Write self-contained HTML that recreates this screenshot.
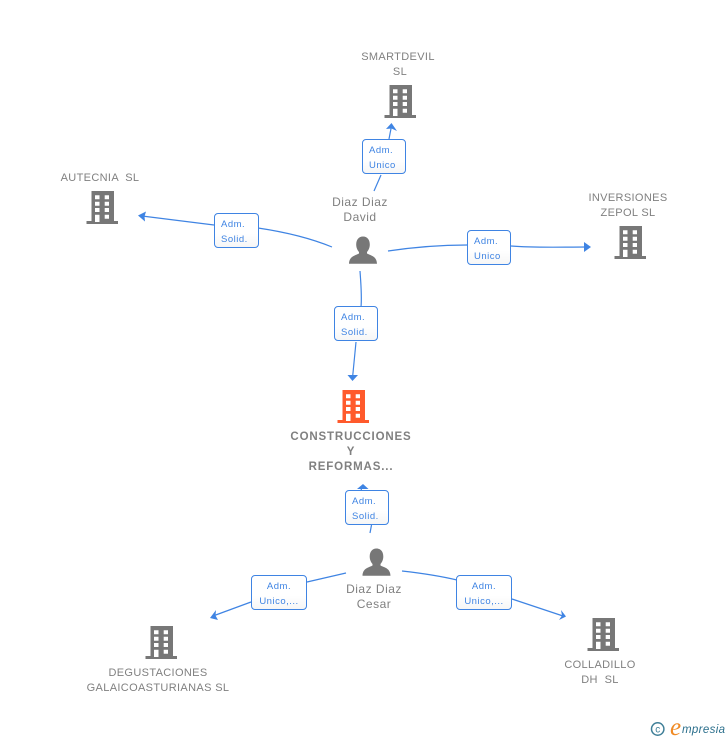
<!DOCTYPE html>
<html><head><meta charset="utf-8">
<style>
html,body{margin:0;padding:0;background:#fff;}
#c{position:relative;width:728px;height:740px;overflow:hidden;background:#fff;font-family:"Liberation Sans",sans-serif;}
svg{position:absolute;left:0;top:0;}
.t{position:absolute;text-align:center;color:#808080;font-size:11px;line-height:15px;letter-spacing:.35px;white-space:pre;transform:translateX(-50%);}
.p{font-size:12px;letter-spacing:.5px;}
.b{font-weight:bold;letter-spacing:.85px;font-size:11.5px;}
.l{position:absolute;box-sizing:border-box;height:35px;border:1px solid #3f84e3;border-radius:4px;background:linear-gradient(#fff 60%,#f6f6f6);color:#3f84e3;font-size:9.5px;line-height:15px;letter-spacing:.5px;padding:2.5px 0 0 6px;white-space:pre;}
.ctr{text-align:center;padding-left:0;}
</style></head><body>
<div id="c">
<svg width="728" height="740" viewBox="0 0 728 740">
<defs>
<g id="bd">
<path fill-rule="evenodd" d="M5.5 1H28V31H32V34H.5V31H5.5ZM9 5.300V9.300H13.500V5.300ZM18.700 5.300V9.300H23V5.300ZM9 11.700V15.700H13.500V11.700ZM18.700 11.700V15.700H23V11.700ZM9 18V22H13.500V18ZM18.700 18V22H23V18ZM9 24.700V32H13.500V24.700ZM18.700 24.700V28.700H23V24.700Z"/>
</g>
<g id="pr">
<path d="M14 .5C18.500 .5 20.800 4 20.800 8.500C20.800 12 19.300 14.500 18 16V17.500C21.500 19.500 27.800 20 28 27.800H0C.2 20 6.500 19.500 10 17.500V16C8.700 14.500 7.200 12 7.200 8.500C7.200 4 9.500 .5 14 .5Z"/>
</g>
</defs>
<g fill="#777">
<use href="#bd" x="384" y="84"/>
<use href="#bd" x="86" y="190"/>
<use href="#bd" x="614" y="225"/>
<use href="#bd" x="145" y="625"/>
<use href="#bd" x="587" y="617"/>
<use href="#pr" x="349" y="236"/>
<use href="#pr" x="362.500" y="548"/>
</g>
<use href="#bd" x="337" y="389" fill="#ff5a2c"/>
<g fill="none" stroke="#3f84e3" stroke-width="1.200">
<path d="M374 191L381 175"/>
<path d="M389 139L391.500 126"/>
<path d="M332 247C310 238 285 232 258 228"/>
<path d="M214 225L142 216"/>
<path d="M388 251C415 247 440 245 467 245"/>
<path d="M511 246C535 248 560 247 587 247"/>
<path d="M360 271C361 285 362 296 361 307"/>
<path d="M356 342L352.500 378"/>
<path d="M370 533L371.500 525"/>
<path d="M361 491L362 486"/>
<path d="M346 573L307 582"/>
<path d="M251 602L213 616"/>
<path d="M402 571C420 573 440 576 457 580"/>
<path d="M512 599L563 616"/>
</g>
<g fill="#3f84e3">
<path d="M391.500 123L397 131L391.500 128.500L386 129Z"/>
<path d="M138 215.500L146 211.500L144.500 216.500L145 221.500Z"/>
<path d="M591 247L584 242V252Z"/>
<path d="M352.500 381L347.500 375H358Z"/>
<path d="M363 484L357 489H368.500L363 484Z"/>
<path d="M210 618L216 610L215.500 615.500L218 620Z"/>
<path d="M566 616.500L561 610L562 615.500L559 620Z"/>
</g>
<circle cx="657.700" cy="729" r="6.200" fill="none" stroke="#3f7f98" stroke-width="1.500"/>
<text x="657.700" y="732.500" text-anchor="middle" font-family="Liberation Sans,sans-serif" font-size="10" fill="#3f7f98">c</text>
<text x="670" y="735" font-family="Liberation Serif,serif" font-style="italic" font-size="25" fill="#f08a24">e</text>
<text x="682" y="733" font-family="Liberation Sans,sans-serif" font-style="italic" font-size="11.500" letter-spacing=".35" fill="#2b6f8c">mpresia</text>
</svg>

<div class="t" style="left:398px;top:50px;">SMARTDEVIL</div>
<div class="t" style="left:400px;top:65px;">SL</div>
<div class="t" style="left:100px;top:171px;">AUTECNIA  SL</div>
<div class="t" style="left:628px;top:191px;">INVERSIONES</div>
<div class="t" style="left:628px;top:206px;">ZEPOL SL</div>
<div class="t p" style="left:360px;top:195px;">Diaz Diaz</div>
<div class="t p" style="left:360px;top:210px;">David</div>
<div class="t b" style="left:351px;top:430px;">CONSTRUCCIONES</div>
<div class="t b" style="left:351px;top:445px;">Y</div>
<div class="t b" style="left:351px;top:460px;">REFORMAS...</div>
<div class="t p" style="left:374px;top:582px;">Diaz Diaz</div>
<div class="t p" style="left:374px;top:597px;">Cesar</div>
<div class="t" style="left:158px;top:666px;">DEGUSTACIONES</div>
<div class="t" style="left:158px;top:681px;">GALAICOASTURIANAS SL</div>
<div class="t" style="left:600px;top:658px;">COLLADILLO</div>
<div class="t" style="left:600px;top:673px;">DH  SL</div>

<div class="l" style="left:362px;top:139px;width:44px;">Adm.
Unico</div>
<div class="l" style="left:214px;top:213px;width:45px;">Adm.
Solid.</div>
<div class="l" style="left:467px;top:230px;width:44px;">Adm.
Unico</div>
<div class="l" style="left:334px;top:306px;width:44px;">Adm.
Solid.</div>
<div class="l" style="left:345px;top:490px;width:44px;">Adm.
Solid.</div>
<div class="l ctr" style="left:251px;top:575px;width:56px;">Adm.
Unico,...</div>
<div class="l ctr" style="left:456px;top:575px;width:56px;">Adm.
Unico,...</div>
</div>
</body></html>
